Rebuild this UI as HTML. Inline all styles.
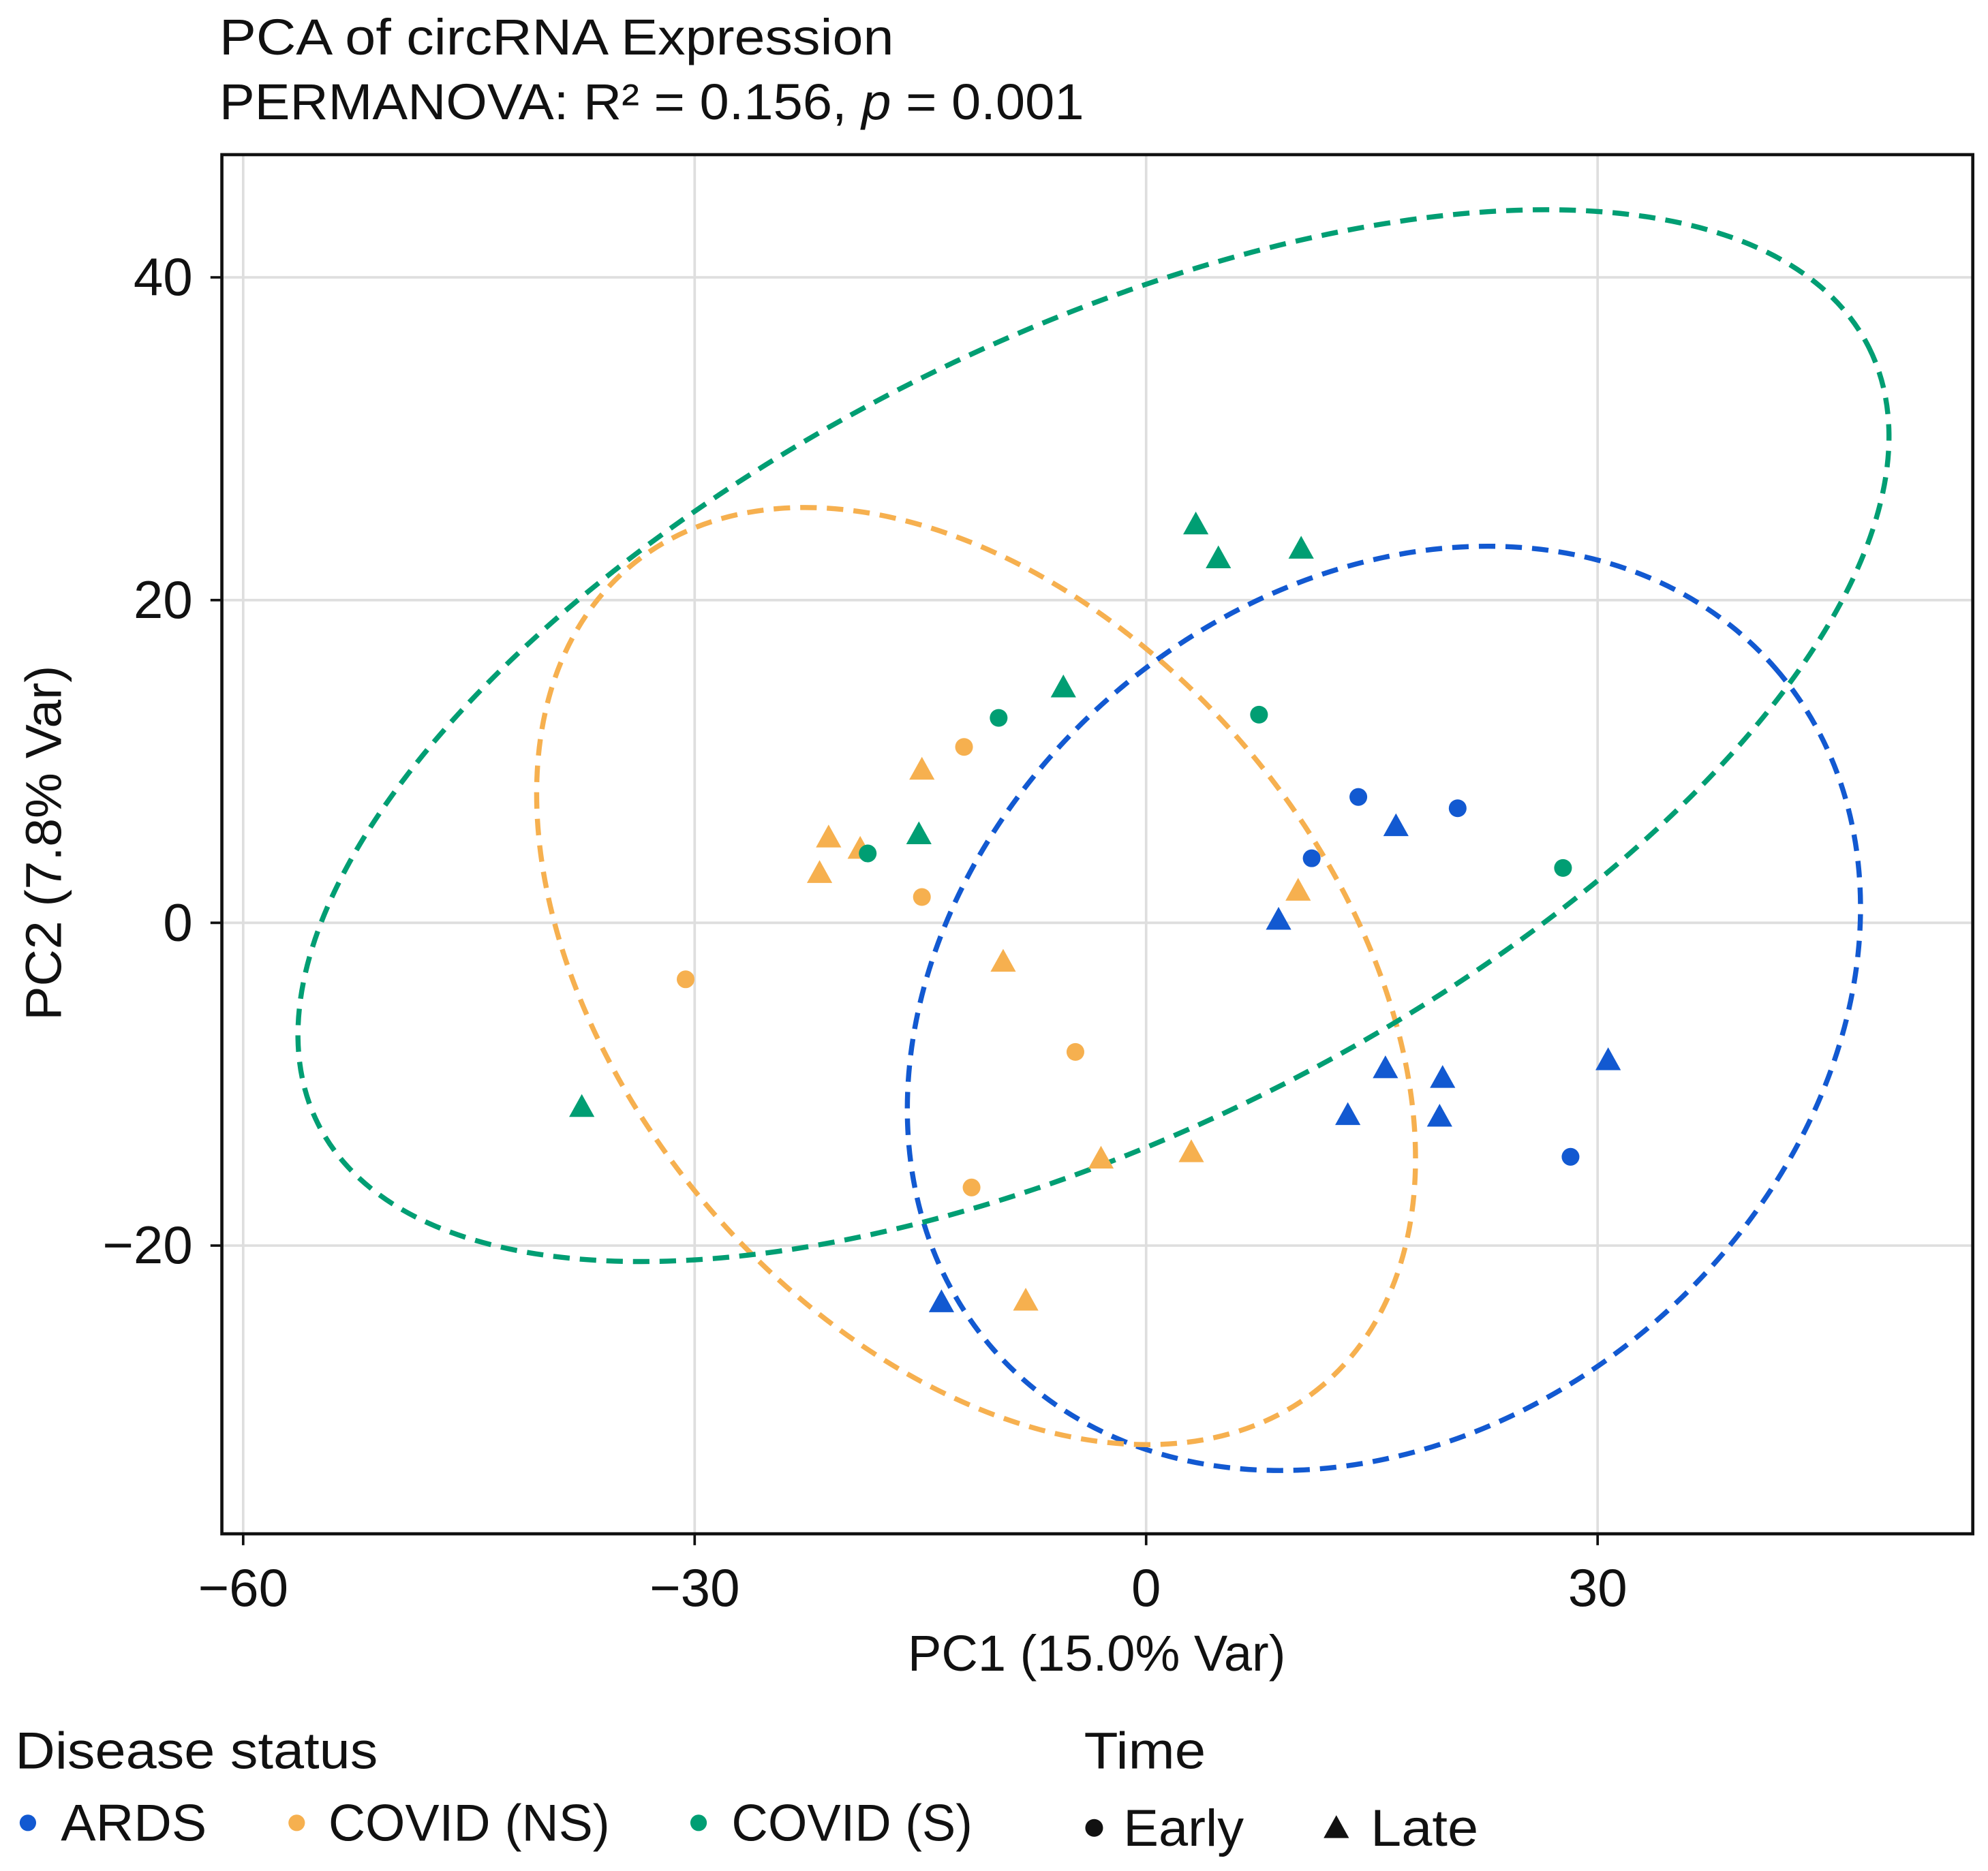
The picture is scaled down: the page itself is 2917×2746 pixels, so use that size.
<!DOCTYPE html>
<html><head><meta charset="utf-8"><style>
html,body{margin:0;padding:0;background:#fff;}
svg{display:block;font-family:"Liberation Sans",sans-serif;}
</style></head><body>
<svg id="chart" width="2917" height="2746" viewBox="0 0 1568 1476" preserveAspectRatio="none" xmlns="http://www.w3.org/2000/svg">
<rect x="0" y="0" width="1568" height="1476" fill="#fff"/>
<text x="173" y="43" font-size="40" fill="#111" textLength="532" lengthAdjust="spacingAndGlyphs">PCA of circRNA Expression</text>
<text x="173" y="94" font-size="40" fill="#111" textLength="682" lengthAdjust="spacingAndGlyphs">PERMANOVA: R² = 0.156, <tspan font-style="italic">p</tspan> = 0.001</text>
<g id="grid"></g>
<g id="ellipses"></g>
<g id="points"></g>
<rect x="175" y="122" width="1381" height="1088" fill="none" stroke="#111" stroke-width="2.5"/>
<g id="ticks"></g>
<text x="865" y="1318" font-size="40" text-anchor="middle" fill="#111" textLength="298" lengthAdjust="spacingAndGlyphs">PC1 (15.0% Var)</text>
<text transform="translate(48,665) rotate(-90)" font-size="40" text-anchor="middle" fill="#111" textLength="280" lengthAdjust="spacingAndGlyphs">PC2 (7.8% Var)</text>
<g font-size="41" fill="#111">
<text x="12" y="1395" textLength="286" lengthAdjust="spacingAndGlyphs">Disease status</text>
<circle cx="22" cy="1438" r="6.5" fill="#1259D1"/>
<text x="48" y="1452" textLength="115" lengthAdjust="spacingAndGlyphs">ARDS</text>
<circle cx="234" cy="1438" r="6.5" fill="#F6B04F"/>
<text x="259" y="1452" textLength="222" lengthAdjust="spacingAndGlyphs">COVID (NS)</text>
<circle cx="551" cy="1438" r="6.5" fill="#009E73"/>
<text x="577" y="1452" textLength="190" lengthAdjust="spacingAndGlyphs">COVID (S)</text>
<text x="855" y="1395" textLength="96" lengthAdjust="spacingAndGlyphs">Time</text>
<circle cx="863" cy="1442" r="7" fill="#111"/>
<text x="886" y="1456" textLength="95" lengthAdjust="spacingAndGlyphs">Early</text>
<polygon points="1054,1432 1064,1450 1044,1450" fill="#111"/>
<text x="1081" y="1456" textLength="85" lengthAdjust="spacingAndGlyphs">Late</text>
</g>
</svg>
<script>
const xTicks = [-60, -30, 0, 30];
const yTicks = [-20, 0, 20, 40];
const xTickLabels = ["\u221260", "\u221230", "0", "30"];
const yTickLabels = ["\u221220", "0", "20", "40"];
const groups = ["ARDS", "COVID (NS)", "COVID (S)"];
const colors = {"ARDS":"#1259D1","COVID (NS)":"#F6B04F","COVID (S)":"#009E73"};
const ardsX = [14.1, 20.7, 11.0, 28.2, 16.6, 8.8, 15.9, 19.7, 13.4, 19.5, 30.7, -13.6];
const ardsY = [7.8, 7.1, 4.0, -14.5, 6.0, 0.2, -9.0, -9.6, -11.9, -12.0, -8.5, -23.5];
const ardsTime = ["E","E","E","E","L","L","L","L","L","L","L","L"];
const nsX = [-12.1, -14.9, -30.6, -4.7, -11.6, -14.9, -21.1, -19.0, -21.7, -9.5, 10.1, -3.0, 3.0, -8.0];
const nsY = [10.9, 1.6, -3.5, -8.0, -16.4, 9.5, 5.3, 4.6, 3.1, -2.4, 2.0, -14.6, -14.2, -23.4];
const nsTime = ["E","E","E","E","E","L","L","L","L","L","L","L","L","L"];
const sX = [-9.8, -18.5, 7.5, 27.7, 3.3, 4.8, 10.3, -5.5, -15.1, -37.5];
const sY = [12.7, 4.3, 12.9, 3.4, 24.7, 22.6, 23.2, 14.6, 5.5, -11.4];
const sTime = ["E","E","E","E","L","L","L","L","L","L"];
const ellipseCX = [15.8, -11.3, -3.5];
const ellipseCY = [-5.3, -3.3, 11.6];

const NS = "http://www.w3.org/2000/svg";
function X(v){ return 904 + v*11.87; }
function Y(v){ return 728 - v*12.73; }
function mk(tag, attrs, parent){
  const e = document.createElementNS(NS, tag);
  for (const k in attrs) e.setAttribute(k, attrs[k]);
  parent.appendChild(e); return e;
}
const grid = document.getElementById('grid');
const ticks = document.getElementById('ticks');
xTicks.forEach((t,i)=>{
  const l = mk('line',{x1:X(t),x2:X(t),y1:122,y2:1210,stroke:'#dedede','stroke-width':2},grid);
  
  
  const tk = mk('line',{x1:X(t),x2:X(t),y1:1210,y2:1219,stroke:'#111','stroke-width':2},ticks);
  
  
  const tx = mk('text',{x:X(t),y:1267,'font-size':42,'text-anchor':'middle',fill:'#111'},ticks);
  tx.textContent = xTickLabels[i];
  
  
});
yTicks.forEach((t,i)=>{
  const l = mk('line',{x1:175,x2:1556,y1:Y(t),y2:Y(t),stroke:'#dedede','stroke-width':2},grid);
  
  
  const tk = mk('line',{x1:166,x2:175,y1:Y(t),y2:Y(t),stroke:'#111','stroke-width':2},ticks);
  
  
  const tx = mk('text',{x:152,y:Y(t)+14,'font-size':42,'text-anchor':'end',fill:'#111'},ticks);
  tx.textContent = yTickLabels[i];
  
  
});
const eShape = [[409,327,-41],[423,279,49.7],[684,313,-26.6]];
const eg = document.getElementById('ellipses');
groups.forEach((g,i)=>{
  const e = mk('ellipse',{cx:0,cy:0,rx:eShape[i][0],ry:eShape[i][1],fill:'none',stroke:colors[g],'stroke-width':4,'stroke-dasharray':'13 8',
    transform:`translate(${X(ellipseCX[i])},${Y(ellipseCY[i])}) rotate(${eShape[i][2]})`},eg);
  
  
});
const pg = document.getElementById('points');
function drawSeries(xs, ys, ts, g){
  xs.forEach((v,i)=>{
    const px = X(v), py = Y(ys[i]);
    let m;
    if (ts[i]==="E") m = mk('circle',{cx:px,cy:py,r:7,fill:colors[g]},pg);
    else m = mk('polygon',{points:`${px},${py-10} ${px+10},${py+8} ${px-10},${py+8}`,fill:colors[g]},pg);
    
    
  });
}
drawSeries(ardsX, ardsY, ardsTime, "ARDS");
drawSeries(nsX, nsY, nsTime, "COVID (NS)");
drawSeries(sX, sY, sTime, "COVID (S)");
</script>
</body></html>
